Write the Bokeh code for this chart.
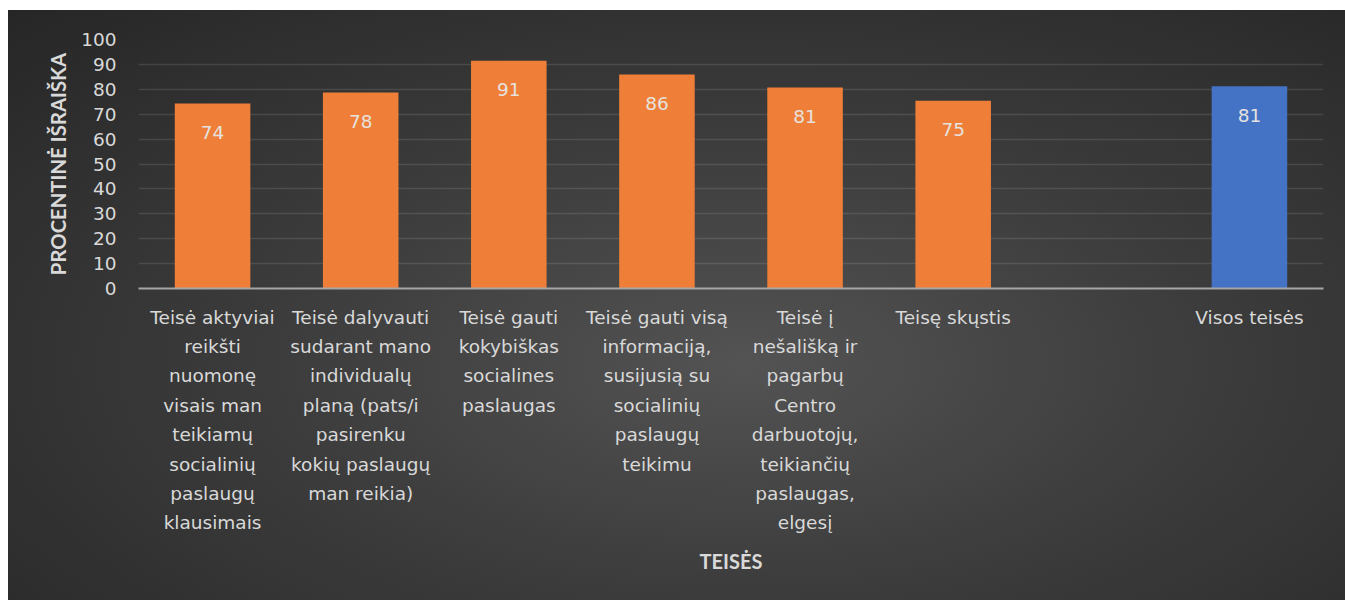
from bokeh.plotting import figure
from bokeh.models import ColumnDataSource, LabelSet, FixedTicker
from bokeh.core.properties import value
from bokeh.embed import file_html
from bokeh.resources import INLINE

categories = [
    "Teisė aktyviai\nreikšti\nnuomonę\nvisais man\nteikiamų\nsocialinių\npaslaugų\nklausimais",
    "Teisė dalyvauti\nsudarant mano\nindividualų\nplaną (pats/i\npasirenku\nkokių paslaugų\nman reikia)",
    "Teisė gauti\nkokybiškas\nsocialines\npaslaugas",
    "Teisė gauti visą\ninformaciją,\nsusijusią su\nsocialinių\npaslaugų\nteikimu",
    "Teisė į\nnešališką ir\npagarbų\nCentro\ndarbuotojų,\nteikiančių\npaslaugas,\nelgesį",
    "Teisę skųstis",
    " ",
    "Visos teisės",
]
values = [74.3, 78.7, 91.5, 85.9, 80.7, 75.4, 0.0, 81.2]
labels = ["74", "78", "91", "86", "81", "75", "", "81"]
colors = ["#ef7f38", "#ef7f38", "#ef7f38", "#ef7f38", "#ef7f38", "#ef7f38", "#ef7f38", "#4472c4"]

FONT = "DejaVu Sans"
TXT = "#d9d9d9"

bar_src = ColumnDataSource(dict(
    cat=[c for c, v in zip(categories, values) if v > 0],
    val=[v for v in values if v > 0],
    lab=[l for l, v in zip(labels, values) if v > 0],
    col=[c for c, v in zip(colors, values) if v > 0],
))

p = figure(
    x_range=categories, y_range=(0, 100),
    width=1337, height=590,
    output_backend="svg", toolbar_location=None,
    min_border_left=130, min_border_right=22, min_border_top=29, min_border_bottom=312,
)
p.styles = {
    "margin-top": "10px",
    "margin-left": "8px",
    "background-image": "radial-gradient(ellipse farthest-corner at 55% 60%, #535353 0%, #3c3c3c 45%, #262626 100%)",
}
p.border_fill_alpha = 0
p.background_fill_alpha = 0
p.outline_line_color = None

p.vbar(x="cat", top="val", width=0.51, source=bar_src, fill_color="col", line_color=None)

p.add_layout(LabelSet(x="cat", y="val", text="lab", source=bar_src,
                      y_offset=-29, text_align="center", text_baseline="middle",
                      text_font=value(FONT), text_font_size="18.5px", text_color="#e6e2df"))

p.xgrid.grid_line_color = None
p.ygrid.grid_line_color = "white"
p.ygrid.grid_line_alpha = 0.11
p.ygrid.grid_line_width = 1.5

p.yaxis.ticker = FixedTicker(ticks=list(range(0, 101, 10)))
p.yaxis.axis_line_color = None
p.yaxis.major_tick_line_color = None
p.yaxis.minor_tick_line_color = None
p.yaxis.major_tick_out = 0
p.yaxis.major_tick_in = 0
p.yaxis.major_label_standoff = 22
p.yaxis.major_label_text_font = FONT
p.yaxis.major_label_text_font_size = "18.5px"
p.yaxis.major_label_text_color = TXT
p.yaxis.axis_label = "PROCENTINĖ IŠRAIŠKA"
p.yaxis.axis_label_text_font = "Lato"
p.yaxis.axis_label_text_font_size = "20.3px"
p.yaxis.axis_label_text_font_style = "bold"
p.yaxis.axis_label_text_color = TXT
p.yaxis.axis_label_standoff = 8

p.xaxis.axis_line_color = "#a6a6a6"
p.xaxis.axis_line_width = 2
p.xaxis.major_tick_line_color = None
p.xaxis.major_tick_out = 0
p.xaxis.major_tick_in = 0
p.xaxis.major_label_standoff = 18
p.xaxis.major_label_text_font = FONT
p.xaxis.major_label_text_font_size = "18.5px"
p.xaxis.major_label_text_color = TXT
p.xaxis.major_label_text_line_height = 1.40
p.xaxis.axis_label = "TEISĖS"
p.xaxis.axis_label_text_font = "Lato"
p.xaxis.axis_label_text_font_size = "20px"
p.xaxis.axis_label_text_font_style = "bold"
p.xaxis.axis_label_text_color = TXT
p.xaxis.axis_label_standoff = 13

open("out.html", "w").write(file_html(p, INLINE))
